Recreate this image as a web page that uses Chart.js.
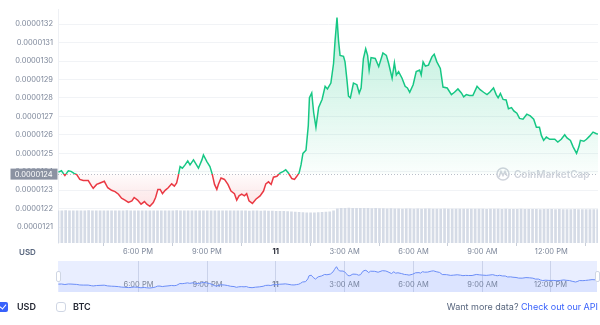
<!DOCTYPE html>
<html>
<head>
<meta charset="utf-8">
<script src="https://cdn.jsdelivr.net/npm/chart.js@4.4.1/dist/chart.umd.min.js"></script>
<style>
  body { margin: 0; width: 600px; height: 325px; background: #fff; font-family: Inter, "Noto Sans", sans-serif; position: relative; overflow: hidden; }
  #main { position: absolute; left: 0; top: 0; }
  #nav { position: absolute; left: 0; top: 256px; }
  .unit { position: absolute; left: 19px; top: 247px; font-size: 8px; font-weight: 600; color: #58667e; }
  .opt { position: absolute; top: 301px; font-size: 9px; font-weight: 600; color: #222531; line-height: 12px; }
  .box { position: absolute; top: 302px; width: 10px; height: 10px; box-sizing: border-box; border-radius: 2px; }
  .box.on { left: -2px; background: #3861fb; }
  .box.on::after { content: ""; position: absolute; left: 3px; top: 1px; width: 3px; height: 5px; border: solid #fff; border-width: 0 1.5px 1.5px 0; transform: rotate(40deg); }
  .box.off { left: 56px; border: 1px solid #cfd6e4; border-radius: 3px; }
  .api { position: absolute; right: 2px; top: 301px; font-size: 9px; color: #58667e; line-height: 12px; }
  .api a { color: #3861fb; text-decoration: none; }
</style>
</head>
<body>
<canvas id="main" width="600" height="262"></canvas>
<canvas id="nav" width="600" height="40"></canvas>
<div class="unit">USD</div>
<div class="box on"></div><div class="opt" style="left:17px">USD</div>
<div class="box off"></div><div class="opt" style="left:73px">BTC</div>
<div class="api">Want more data? <a href="#">Check out our API</a></div>
<script>
// time = minutes since midnight of the 10th (1440 = "11")
const times = [
  872, 880, 889, 898, 905, 913, 920, 928, 937, 950, 959, 963, 972, 981, 992, 1001, 1011, 1020, 1029, 1037,
  1046, 1055, 1064, 1070, 1079, 1088, 1097, 1103, 1111, 1120, 1126, 1132, 1138, 1144, 1151, 1159, 1168, 1175, 1181, 1185,
  1190, 1196, 1203, 1210, 1216, 1225, 1238, 1247, 1251, 1260, 1268, 1274, 1280, 1286, 1290, 1297, 1306, 1315, 1323, 1332,
  1338, 1344, 1351, 1358, 1364, 1370, 1379, 1388, 1399, 1408, 1414, 1421, 1428, 1434, 1443, 1451, 1460, 1466, 1473, 1482,
  1489, 1495, 1501, 1506, 1511, 1519, 1525, 1528, 1534, 1539, 1545, 1552, 1561, 1569, 1575, 1584, 1591, 1595, 1600, 1604,
  1608, 1617, 1621, 1626, 1630, 1635, 1643, 1652, 1658, 1663, 1669, 1675, 1680, 1684, 1689, 1700, 1709, 1720, 1729, 1735,
  1744, 1750, 1755, 1761, 1770, 1778, 1784, 1790, 1799, 1807, 1816, 1820, 1825, 1831, 1839, 1848, 1854, 1861, 1870, 1877,
  1888, 1899, 1907, 1916, 1925, 1931, 1938, 1946, 1955, 1966, 1974, 1983, 1992, 1999, 2009, 2016, 2021, 2027, 2034, 2042,
  2048, 2056, 2062, 2070, 2077, 2086, 2096, 2105, 2114, 2121, 2129, 2134, 2140, 2147, 2156, 2169, 2177, 2186, 2195, 2201,
  2210, 2217, 2226, 2232, 2236, 2245, 2252, 2260, 2269, 2278, 2282
];
const prices = [
  0.000012398, 0.000012405, 0.000012379, 0.000012405, 0.000012402, 0.000012391, 0.000012384, 0.000012358, 0.000012352, 0.000012352,
  0.000012322, 0.000012310, 0.000012331, 0.000012339, 0.000012348, 0.000012313, 0.000012299, 0.000012292, 0.000012278, 0.000012256,
  0.000012246, 0.000012233, 0.000012242, 0.000012260, 0.000012246, 0.000012224, 0.000012238, 0.000012224, 0.000012212, 0.000012233,
  0.000012260, 0.000012304, 0.000012304, 0.000012281, 0.000012299, 0.000012313, 0.000012334, 0.000012322, 0.000012339, 0.000012375,
  0.000012428, 0.000012419, 0.000012437, 0.000012459, 0.000012437, 0.000012464, 0.000012419, 0.000012464, 0.000012491, 0.000012455,
  0.000012428, 0.000012387, 0.000012331, 0.000012304, 0.000012331, 0.000012366, 0.000012358, 0.000012331, 0.000012295, 0.000012281,
  0.000012246, 0.000012269, 0.000012278, 0.000012269, 0.000012281, 0.000012242, 0.000012228, 0.000012251, 0.000012269, 0.000012295,
  0.000012334, 0.000012345, 0.000012331, 0.000012370, 0.000012375, 0.000012393, 0.000012402, 0.000012411, 0.000012393, 0.000012363,
  0.000012358, 0.000012375, 0.000012393, 0.000012437, 0.000012499, 0.000012517, 0.000012650, 0.000012801, 0.000012827, 0.000012721,
  0.000012641, 0.000012748, 0.000012792, 0.000012863, 0.000012849, 0.000012881, 0.000012987, 0.000013111, 0.000013236, 0.000013111,
  0.000013031, 0.000013026, 0.000012996, 0.000012898, 0.000012810, 0.000012801, 0.000012881, 0.000012872, 0.000012827, 0.000012854,
  0.000013014, 0.000013067, 0.000013031, 0.000012951, 0.000013019, 0.000013014, 0.000012970, 0.000013044, 0.000013031, 0.000012987,
  0.000012907, 0.000012991, 0.000012925, 0.000012943, 0.000012907, 0.000012863, 0.000012854, 0.000012831, 0.000012872, 0.000012943,
  0.000012951, 0.000012925, 0.000012996, 0.000012973, 0.000012978, 0.000013023, 0.000013037, 0.000012996, 0.000012960, 0.000012859,
  0.000012854, 0.000012818, 0.000012831, 0.000012849, 0.000012827, 0.000012806, 0.000012818, 0.000012813, 0.000012813, 0.000012863,
  0.000012845, 0.000012831, 0.000012818, 0.000012831, 0.000012854, 0.000012818, 0.000012801, 0.000012824, 0.000012792, 0.000012789,
  0.000012742, 0.000012748, 0.000012730, 0.000012717, 0.000012689, 0.000012685, 0.000012712, 0.000012703, 0.000012685, 0.000012641,
  0.000012641, 0.000012597, 0.000012570, 0.000012588, 0.000012576, 0.000012576, 0.000012561, 0.000012576, 0.000012600, 0.000012583,
  0.000012570, 0.000012535, 0.000012499, 0.000012535, 0.000012570, 0.000012565, 0.000012576, 0.000012593, 0.000012615, 0.000012606,
  0.000012604
];
// volume bars, one every 10 minutes from volStart
const volStart = 871;
const volumes = [
  332, 331, 333, 330, 332, 331, 330, 332, 333, 331,
  330, 332, 331, 330, 331, 332, 330, 331, 333, 332,
  331, 330, 332, 331, 330, 331, 332, 331, 330, 332,
  331, 333, 332, 330, 331, 332, 331, 330, 331, 332,
  330, 331, 332, 331, 330, 332, 331, 330, 331, 330,
  329, 330, 331, 329, 330, 328, 329, 327, 326, 325,
  323, 321, 318, 315, 313, 311, 310, 311, 313, 315,
  318, 322, 330, 352, 357, 358, 360, 358, 357, 356,
  358, 357, 355, 356, 354, 353, 352, 353, 351, 352,
  350, 351, 352, 350, 351, 350, 352, 351, 350, 349,
  350, 351, 350, 349, 350, 348, 349, 350, 349, 348,
  349, 348, 347, 348, 349, 348, 347, 348, 347, 346,
  347, 348, 347, 346, 347, 346, 345, 346, 347, 346,
  345, 346, 345, 344, 345, 346, 345, 344, 345, 344,
  345, 344
];
const BASELINE = 0.000012387; // opening price shown in the grey tag
const yTicks = [0.0000121, 0.0000122, 0.0000123, 0.0000124, 0.0000125, 0.0000126,
                0.0000127, 0.0000128, 0.0000129, 0.0000130, 0.0000131, 0.0000132];
const xTickValues = [1080, 1260, 1440, 1620, 1800, 1980, 2160];
const xTickLabels = ['6:00 PM', '9:00 PM', '11', '3:00 AM', '6:00 AM', '9:00 AM', '12:00 PM'];

const GREEN = '#16c784';
const RED = '#ea3943';
const FONT = 'Inter, "Noto Sans", sans-serif';

const points = times.map((t, i) => ({ x: t, y: prices[i] }));
const volPoints = volumes.map((v, i) => ({ x: volStart + i * 10, y: v }));

const baseFrac = (chart) => {
    const a = chart.chartArea;
    const by = chart.scales.y.getPixelForValue(BASELINE);
    return Math.min(1, Math.max(0, (by - a.top) / (a.bottom - a.top)));
};

const overlay = {
    id: 'overlay',
    beforeDatasetsDraw(chart) {
        const { ctx, chartArea: a, scales: { y } } = chart;
        const by = Math.round(y.getPixelForValue(BASELINE)) + 0.5;
        ctx.save();
        ctx.strokeStyle = 'rgba(128,138,157,0.55)';
        ctx.lineWidth = 1;
        ctx.setLineDash([1, 2]);
        ctx.beginPath();
        ctx.moveTo(a.left, by);
        ctx.lineTo(a.right, by);
        ctx.stroke();
        ctx.setLineDash([]);

        // watermark
        ctx.strokeStyle = '#cfd3db';
        ctx.lineWidth = 1.6;
        ctx.beginPath();
        ctx.arc(503, 174, 6, 0, Math.PI * 2);
        ctx.stroke();
        ctx.beginPath();
        ctx.moveTo(499, 177);
        ctx.lineTo(501, 171.5);
        ctx.lineTo(503, 175.5);
        ctx.lineTo(505, 171.5);
        ctx.lineTo(507, 176);
        ctx.stroke();
        ctx.fillStyle = '#cfd3db';
        ctx.font = '600 10px ' + FONT;
        ctx.textBaseline = 'middle';
        ctx.fillText('CoinMarketCap', 514, 174.5);
        ctx.restore();
    },
    afterDraw(chart) {
        const { ctx, scales: { y } } = chart;
        const by = y.getPixelForValue(BASELINE);
        ctx.save();
        ctx.fillStyle = '#8b92a2';
        ctx.fillRect(10.5, by - 5.5, 47, 11);
        ctx.fillStyle = '#fff';
        ctx.font = '7.5px ' + FONT;
        ctx.textAlign = 'right';
        ctx.textBaseline = 'middle';
        ctx.fillText(BASELINE.toFixed(7), 52.5, by + 0.5);
        ctx.restore();
    }
};

new Chart(document.getElementById('main'), {
    type: 'line',
    data: {
        datasets: [{
            type: 'line',
            data: points,
            yAxisID: 'y',
            order: 0,
            borderWidth: 1.5,
            pointRadius: 0,
            tension: 0,
            fill: { value: BASELINE },
            borderColor: (c) => {
                const chart = c.chart;
                if (!chart.chartArea) return GREEN;
                const f = baseFrac(chart);
                const g = chart.ctx.createLinearGradient(0, chart.chartArea.top, 0, chart.chartArea.bottom);
                g.addColorStop(0, GREEN);
                g.addColorStop(f, GREEN);
                g.addColorStop(f, RED);
                g.addColorStop(1, RED);
                return g;
            },
            backgroundColor: (c) => {
                const chart = c.chart;
                if (!chart.chartArea) return 'transparent';
                const f = baseFrac(chart);
                const g = chart.ctx.createLinearGradient(0, chart.chartArea.top, 0, chart.chartArea.bottom);
                g.addColorStop(0, 'rgba(22,199,132,0.30)');
                g.addColorStop(f, 'rgba(22,199,132,0.02)');
                g.addColorStop(f, 'rgba(234,57,67,0.02)');
                g.addColorStop(1, 'rgba(234,57,67,0.28)');
                return g;
            }
        }, {
            type: 'bar',
            data: volPoints,
            yAxisID: 'v',
            order: 1,
            backgroundColor: '#d5dbe6',
            barPercentage: 0.7,
            categoryPercentage: 1
        }]
    },
    options: {
        responsive: false,
        animation: false,
        devicePixelRatio: 1,
        layout: { padding: { top: 5, right: 2, left: 0, bottom: 0 } },
        plugins: { legend: { display: false }, tooltip: { enabled: false } },
        scales: {
            x: {
                type: 'linear',
                offset: false,
                min: 871,
                max: 2282,
                afterBuildTicks: (s) => { s.ticks = xTickValues.map(v => ({ value: v })); },
                afterFit: (s) => { s.height = 19; },
                grid: { drawOnChartArea: false, drawTicks: true, tickLength: 3, color: '#c8ced9' },
                border: { display: false },
                ticks: {
                    autoSkip: false,
                    maxRotation: 0,
                    padding: 1,
                    callback: (v) => xTickLabels[xTickValues.indexOf(v)],
                    color: (c) => (c.tick && c.tick.value === 1440 ? '#222531' : '#7d879a'),
                    font: (c) => ({ family: FONT, size: 7.5, weight: c.tick && c.tick.value === 1440 ? '700' : '400' })
                }
            },
            y: {
                position: 'left',
                min: 0.00001201325,
                max: 0.0000132799,
                afterBuildTicks: (s) => { s.ticks = yTicks.map(v => ({ value: v })); },
                afterFit: (s) => { s.width = 58; },
                grid: { color: '#f1f3f6', drawTicks: false },
                border: { color: '#eef0f4' },
                ticks: {
                    padding: 5,
                    color: '#7d879a',
                    font: { family: FONT, size: 7.5 },
                    callback: (v) => v.toFixed(7)
                }
            },
            v: {
                display: false,
                min: 0,
                max: 2380
            }
        }
    },
    plugins: [overlay]
});

// navigator strip
const navOverlay = {
    id: 'navOverlay',
    beforeDatasetsDraw(chart) {
        const { ctx, chartArea: a, scales: { x } } = chart;
        ctx.save();
        ctx.fillStyle = 'rgba(56,97,251,0.11)';
        ctx.fillRect(a.left, a.top, a.right - a.left, a.bottom - a.top);
        ctx.strokeStyle = 'rgba(190,198,225,0.7)';
        ctx.lineWidth = 1;
        ctx.font = '7.5px ' + FONT;
        ctx.textAlign = 'center';
        ctx.textBaseline = 'middle';
        xTickValues.forEach((v, i) => {
            const px = Math.round(x.getPixelForValue(v)) + 0.5;
            ctx.beginPath();
            ctx.moveTo(px, a.top);
            ctx.lineTo(px, a.bottom);
            ctx.stroke();
            ctx.fillStyle = '#7d879a';
            ctx.font = (i === 2 ? '700 ' : '') + '7.5px ' + FONT;
            ctx.fillText(xTickLabels[i], px, a.top + 23.5);
        });
        ctx.restore();
    },
    afterDraw(chart) {
        const { ctx, chartArea: a } = chart;
        ctx.save();
        ctx.fillStyle = '#fff';
        ctx.strokeStyle = '#cfd6e4';
        ctx.lineWidth = 1;
        [a.left - 2, a.right - 2].forEach(hx => {
            ctx.beginPath();
            ctx.roundRect(hx + 0.5, a.top + 10.5, 4, 10, 1.5);
            ctx.fill();
            ctx.stroke();
        });
        ctx.restore();
    }
};

new Chart(document.getElementById('nav'), {
    type: 'line',
    data: {
        datasets: [{
            data: points,
            borderColor: '#6b8df7',
            borderWidth: 1,
            pointRadius: 0,
            tension: 0,
            fill: 'start',
            backgroundColor: 'rgba(56,97,251,0.07)'
        }]
    },
    options: {
        responsive: false,
        animation: false,
        devicePixelRatio: 1,
        layout: { padding: { top: 5, right: 3, left: 58, bottom: 4 } },
        plugins: { legend: { display: false }, tooltip: { enabled: false } },
        scales: {
            x: { type: 'linear', display: false, min: 871, max: 2282 },
            y: { display: false, min: 0.0000120200, max: 0.0000135100 }
        }
    },
    plugins: [navOverlay]
});
</script>
</body>
</html>
